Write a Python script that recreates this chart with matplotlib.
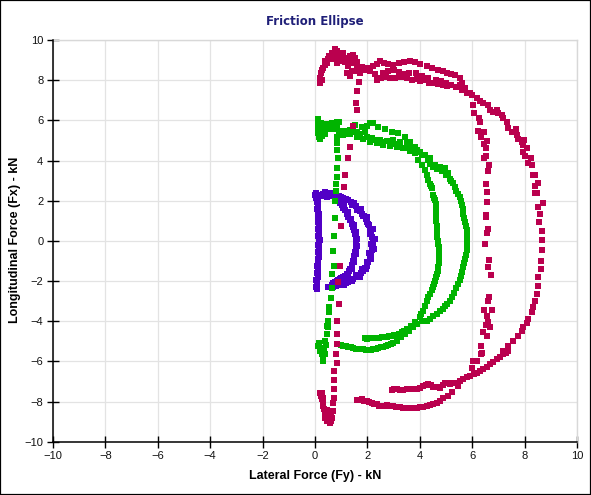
import matplotlib
matplotlib.use("Agg")
import matplotlib.pyplot as plt
from matplotlib.patches import Rectangle
import numpy as np

# ---------------- data: (Fy lateral, Fx longitudinal) in kN ----------------
purple_left = [(0.04,2.40),(0.06,2.30),(0.08,2.20),(0.10,2.03),(0.12,1.85),(0.13,1.70),(0.13,1.50),
               (0.14,1.36),(0.15,1.20),(0.16,1.05),(0.17,0.85),(0.17,0.70),(0.17,0.53),(0.17,0.38),
               (0.17,0.20),(0.18,0.05),(0.17,-0.10),(0.17,-0.31),(0.16,-0.45),(0.15,-0.60),(0.14,-0.80),
               (0.13,-0.95),(0.13,-1.14),(0.12,-1.30),(0.11,-1.50),(0.10,-1.65),(0.10,-1.81),(0.08,-1.95),
               (0.07,-2.10),(0.06,-2.25),(0.06,-2.40),(0.00,2.30),(0.02,2.15),(0.06,1.95),(0.08,1.60),
               (0.10,1.25),(0.12,0.95),(0.12,0.60),(0.13,0.25),(0.13,-0.20),(0.12,-0.55),(0.10,-0.90),
               (0.08,-1.25),(0.06,-1.60),(0.04,-1.95),(0.03,-2.30)]
purple_top = [(0.30,2.35),(0.38,2.42),(0.45,2.40),(0.52,2.38),(0.60,2.40),(0.68,2.35),(0.75,2.33),
              (0.82,2.28),(0.90,2.25),(0.98,2.20),(1.05,2.15),(0.35,2.22),(0.45,2.20),(0.55,2.22),
              (0.65,2.22),(0.75,2.18),(0.85,2.12)]
purple_outer = [(1.08,2.11),(1.18,2.07),(1.27,2.03),(1.37,1.95),(1.46,1.86),(1.55,1.74),(1.65,1.61),
                (1.73,1.49),(1.81,1.36),(1.87,1.24),(1.93,1.11),(2.00,0.95),(2.06,0.78),(2.10,0.61),
                (2.14,0.44),(2.18,0.20),(2.23,-0.06),(2.20,-0.27),(2.16,-0.48),(2.13,-0.68),(2.10,-0.89),
                (2.04,-1.06),(1.97,-1.23),(1.90,-1.37),(1.84,-1.51),(1.75,-1.62),(1.65,-1.73),(1.55,-1.81),
                (1.46,-1.89),(1.36,-1.96),(1.27,-2.03),(1.17,-2.09),(1.08,-2.14),(0.98,-2.17),(0.89,-2.19),
                (0.80,-2.24),(0.70,-2.28),(0.62,-2.30),(0.57,-2.28),(0.50,-2.30),
                (1.50,1.90),(1.75,1.60),(2.00,1.20),(2.20,0.60),(2.28,0.10),(2.25,-0.40),(2.15,-0.90),
                (1.95,-1.40),(1.70,-1.78),(1.40,-2.00),(1.10,-2.20),(0.75,-2.20),
                (1.40,1.80),(1.62,1.52),(1.84,1.22),(2.02,0.85),(2.10,0.35),(2.12,-0.15),(2.08,-0.60),
                (1.98,-1.05),(1.80,-1.42),(1.58,-1.70),(1.30,-1.92),(1.00,-2.08),(0.65,-2.18)]
purple_inner = [(0.89,2.03),(0.95,1.90),(1.02,1.78),(1.08,1.65),(1.15,1.53),(1.21,1.36),(1.27,1.19),
                (1.33,1.02),(1.40,0.86),(1.45,0.70),(1.50,0.53),(1.53,0.36),(1.55,0.19),(1.56,0.02),
                (1.56,-0.14),(1.55,-0.35),(1.53,-0.56),(1.50,-0.77),(1.46,-0.98),(1.40,-1.19),(1.34,-1.39),
                (1.28,-1.52),(1.21,-1.64),(1.14,-1.73),(1.08,-1.81),(1.01,-1.85),(0.95,-1.89),(0.89,-1.94),
                (0.83,-1.98),(0.75,-2.05),(0.68,-2.12),
                (1.00,1.95),(1.12,1.75),(1.25,1.45),(1.36,1.10),(1.47,0.80),(1.55,0.45),(1.60,0.10),
                (1.60,-0.25),(1.58,-0.65),(1.50,-1.05),(1.40,-1.40),(1.25,-1.72)]

green_top = [(0.12,6.05),(0.12,5.88),(0.12,5.70),(0.12,5.52),(0.12,5.35),(0.14,5.18),(0.20,5.08),(0.26,5.20),
             (0.24,5.50),(0.24,5.85),(0.30,5.70),(0.34,5.45),(0.40,5.30),(0.42,5.60),(0.46,5.80),(0.52,5.55),
             (0.58,5.82),(0.64,5.88),(0.70,5.55),(0.76,5.78),(0.83,5.90),(0.83,5.62),(0.90,5.94),(0.92,5.45)]
green_band = [(0.83,5.19),(0.95,5.30),(1.08,5.28),(1.15,5.45),(1.21,5.30),(1.34,5.31),(1.34,5.53),(1.45,5.40),
              (1.53,5.78),(1.59,5.19),(1.59,5.44),(1.70,5.30),(1.78,5.66),(1.84,5.06),(1.90,5.40),(1.97,5.19),
              (1.97,5.73),(2.10,4.94),(2.10,5.86),(2.16,5.10),(2.23,5.86),(2.30,5.00),(2.35,4.86),(2.42,5.69),
              (2.48,5.03),(2.55,4.90),(2.61,4.78),(2.67,5.56),(2.75,4.95),(2.86,4.73),(2.93,5.44),(2.99,5.03),
              (3.05,4.80),(3.12,4.66),(3.18,5.36),(3.25,4.90),(3.37,4.61),(3.44,5.19),(3.50,4.86),(3.55,4.60),
              (3.63,4.49),(3.63,4.94),(3.72,4.60),(3.82,4.36),(3.82,4.69),(3.90,4.50),(3.94,4.03),(4.01,4.44),
              (4.07,3.78),(4.10,4.25),(4.20,3.53),(4.20,4.28),(4.26,3.28),(4.30,4.05),(4.33,3.03),(4.39,4.11),
              (4.40,3.85),(4.45,2.61),(4.50,3.70),(4.58,3.78),(4.65,3.60),(4.77,3.69),(4.85,3.50),(4.96,3.61),
              (5.00,3.30),(5.09,3.36)]
green_inner = [(4.38,2.85),(4.42,2.75),(4.50,2.30),(4.55,2.15),(4.58,2.03),(4.60,1.85),(4.60,1.70),(4.62,1.50),
               (4.61,1.36),(4.62,1.20),(4.63,1.00),(4.64,0.75),(4.64,0.53),(4.66,0.35),(4.67,0.20),(4.70,0.00),
               (4.71,-0.14),(4.72,-0.30),(4.72,-0.50),(4.72,-0.70),(4.72,-0.90),(4.72,-1.10),(4.71,-1.31),
               (4.69,-1.50),(4.66,-1.65),(4.62,-1.80),(4.58,-1.98),(4.55,-2.15),(4.50,-2.30),(4.45,-2.45),
               (4.39,-2.64),(4.33,-2.80),(4.27,-3.00),(4.20,-3.25),(4.13,-3.48),(4.06,-3.65),(4.00,-3.80),
               (3.88,-4.14)]
green_outer = [(5.15,3.10),(5.20,3.00),(5.28,2.86),(5.35,2.70),(5.40,2.50),(5.47,2.35),(5.53,2.19),(5.57,2.00),
               (5.60,1.80),(5.63,1.60),(5.66,1.36),(5.69,1.15),(5.72,0.95),(5.75,0.75),(5.79,0.53),(5.80,0.30),
               (5.82,0.10),(5.81,-0.20),(5.79,-0.48),(5.76,-0.70),(5.72,-0.90),(5.69,-1.10),(5.66,-1.31),
               (5.60,-1.55),(5.56,-1.75),(5.52,-1.95),(5.47,-2.14),(5.40,-2.35),(5.30,-2.60),(5.22,-2.80),
               (5.15,-2.98),(5.05,-3.12),(4.95,-3.25),(4.87,-3.37),(4.77,-3.48),(4.64,-3.62),(4.50,-3.75),
               (4.38,-3.87),(4.26,-3.98)]
green_low_upper = [(3.82,-4.06),(3.65,-4.23),(3.50,-4.39),(3.40,-4.48),(3.31,-4.56),(3.20,-4.62),(3.12,-4.68),
                   (3.02,-4.70),(2.93,-4.73),(2.84,-4.75),(2.74,-4.78),(2.65,-4.80),(2.55,-4.81),(2.45,-4.82),
                   (2.35,-4.84),(2.26,-4.85),(2.16,-4.84),(2.06,-4.86),(1.97,-4.89),(1.90,-4.85)]
green_low_lower = [(4.07,-3.98),(3.90,-4.14),(3.75,-4.31),(3.60,-4.48),(3.44,-4.64),(3.27,-4.81),(3.14,-4.98),
                   (2.99,-5.11),(2.90,-5.15),(2.80,-5.19),(2.70,-5.24),(2.61,-5.28),(2.50,-5.30),(2.42,-5.34),
                   (2.33,-5.36),(2.23,-5.39),(2.14,-5.42),(2.04,-5.44),(1.94,-5.43),(1.84,-5.39),(1.75,-5.38),
                   (1.65,-5.39),(1.55,-5.37),(1.46,-5.34),(1.36,-5.30),(1.27,-5.28),(1.17,-5.25),(1.08,-5.23),
                   (1.00,-5.20)]
green_bottom = [(0.13,-5.23),(0.15,-5.10),(0.19,-5.48),(0.22,-5.35),(0.25,-5.64),(0.28,-5.50),(0.32,-5.89),
                (0.34,-5.31),(0.32,-5.98),(0.38,-5.64),(0.38,-4.98),(0.42,-5.20),(0.45,-4.64),(0.47,-4.23),
                (0.30,-5.75),(0.35,-5.45)]
green_vert = [(0.83,4.86),(0.85,4.53),(0.87,4.11),(0.85,3.61),(0.85,3.19),(0.80,2.83),(0.79,2.48),(0.76,1.98),
              (0.75,1.14),(0.73,0.24),(0.69,-0.53),(0.73,-1.23),(0.65,-1.66),(0.65,-2.36),(0.60,-2.86),
              (0.55,-3.30),(0.53,-3.56),(0.50,-4.00),(0.48,-4.31)]

red_cluster = [(0.19,7.86),(0.19,8.11),(0.23,8.36),(0.32,8.61),(0.38,8.78),(0.38,8.94),(0.51,9.03),(0.64,9.19),
               (0.64,9.36),(0.76,9.53),(0.70,9.06),(0.89,9.19),(0.93,8.94),(1.08,9.36),(1.21,9.11),(1.34,9.19),
               (1.53,9.11),(1.46,8.86),(1.27,8.69),(1.53,8.44),(1.34,8.19),(1.40,8.44),(1.21,8.36),(1.65,8.61),
               (1.72,8.36),(0.25,8.00),(0.28,8.50),(0.45,8.85),(0.55,9.20),(0.83,8.86),(0.85,9.45),(1.00,9.10),
               (1.15,8.90),(1.30,8.90),(1.45,9.25),(1.60,8.90)]
red_band_top = [(1.59,8.70),(1.80,8.65),(2.00,8.61),(2.20,8.70),(2.35,8.80),(2.48,8.94),(2.65,8.85),(2.80,8.80),
                (2.99,8.78),(3.20,8.85),(3.40,8.90),(3.63,8.94),(3.80,8.90),(4.00,8.80),(4.26,8.69),(4.45,8.60),
                (4.70,8.50),(4.90,8.44),(5.03,8.36),(5.20,8.30),(5.34,8.28),(5.53,8.11)]
red_band_mid = [(1.50,8.45),(1.70,8.40),(1.90,8.50),(2.10,8.45),(2.30,8.30),(2.61,8.36),(2.80,8.45),(3.00,8.50),
                (3.20,8.40),(3.40,8.30),(3.60,8.35),(3.85,8.35),(4.10,8.20),(4.30,8.10),(4.60,8.00),(4.80,7.95),
                (5.00,7.85),(5.20,7.75),(5.40,7.65),(5.60,7.50),(5.60,7.86),(5.73,7.61),(5.79,7.36),(5.98,7.28)]
red_band_low = [(2.35,8.03),(2.50,8.10),(2.70,8.15),(2.86,8.11),(3.05,8.10),(3.30,8.15),(3.50,8.11),(3.70,8.00),
                (3.90,8.05),(4.01,7.94),(4.20,8.00),(4.35,7.85),(4.52,7.86),(4.70,7.80),(4.90,7.75),(5.03,7.69),
                (5.53,7.78),(5.73,7.53)]
red_vert = [(1.68,7.89),(1.59,7.44),(1.55,6.86),(1.59,6.53),(1.46,5.72),(1.34,4.69),(1.25,4.14),(1.15,3.28),
            (1.11,2.69),(0.98,0.74),(0.94,-1.26),(0.87,-2.06),(0.93,-3.14),(0.83,-3.98),(0.83,-4.64),
            (0.83,-5.14),(0.80,-5.64),(0.83,-6.06),(0.74,-6.48),(0.73,-6.94),(0.73,-7.39),(0.73,-7.81),
            (0.70,-8.06),(0.70,-8.48)]
red_bottom = [(0.19,-7.56),(0.22,-7.70),(0.25,-7.89),(0.30,-8.05),(0.32,-8.23),(0.35,-8.35),(0.38,-8.48),
              (0.38,-8.65),(0.38,-8.81),(0.45,-8.98),(0.50,-8.90),(0.57,-9.06),(0.60,-8.95),(0.64,-8.81),
              (0.51,-8.56),(0.55,-8.70),(0.45,-8.40),(0.42,-8.75),(0.60,-8.60),(0.64,-8.48),(0.26,-7.60),
              (0.30,-7.80)]
red_low_upper = [(2.93,-7.44),(3.02,-7.40),(3.12,-7.39),(3.25,-7.42),(3.37,-7.43),(3.50,-7.40),(3.63,-7.36),
                 (3.75,-7.37),(3.88,-7.39),(4.00,-7.32),(4.13,-7.23),(4.25,-7.20),(4.33,-7.14),(4.42,-7.20),
                 (4.52,-7.28),(4.65,-7.30),(4.77,-7.31),(4.87,-7.18),(4.96,-7.06),(5.05,-7.10),(5.15,-7.14),
                 (5.28,-7.10),(5.41,-7.06),(5.53,-6.98),(5.66,-6.89),(5.80,-6.80),(5.92,-6.73),(6.05,-6.65),
                 (6.17,-6.56),(6.30,-6.48),(6.42,-6.39),(6.55,-6.27),(6.68,-6.14),(6.80,-6.02),(6.93,-5.89),
                 (7.06,-5.76),(7.19,-5.64),(7.28,-5.56),(7.38,-5.48)]
red_low_lower = [(1.59,-7.93),(1.68,-7.90),(1.78,-7.89),(1.88,-7.95),(1.97,-7.98),(2.06,-8.00),(2.16,-8.06),
                 (2.25,-8.10),(2.35,-8.14),(2.45,-8.20),(2.55,-8.23),(2.65,-8.20),(2.74,-8.18),(2.86,-8.22),
                 (2.99,-8.23),(3.10,-8.26),(3.24,-8.28),(3.37,-8.30),(3.50,-8.31),(3.62,-8.30),(3.75,-8.31),
                 (3.88,-8.30),(4.01,-8.28),(4.13,-8.25),(4.26,-8.23),(4.40,-8.17),(4.52,-8.11),(4.65,-8.05),
                 (4.77,-7.98),(4.90,-7.84),(5.06,-7.73),(5.21,-7.53),(5.47,-7.23)]
red_inner = [(6.04,6.78),(6.08,6.39),(6.27,6.11),(6.30,5.94),(6.23,5.49),(6.46,5.44),(6.34,5.19),(6.55,4.99),
             (6.46,4.83),(6.53,4.64),(6.45,4.11),(6.53,4.23),(6.64,3.78),(6.59,3.49),(6.53,2.83),(6.55,2.44),
             (6.55,1.94),(6.53,1.31),(6.53,1.20),(6.59,0.58),(6.55,0.39),(6.49,-0.14),(6.64,-0.93),
             (6.62,-1.31),(6.70,-1.68),(6.65,-2.78),(6.62,-2.98),(6.46,-3.43),(6.74,-3.43),(6.55,-3.73),
             (6.59,-4.03),(6.53,-4.18),(6.68,-4.31),(6.42,-4.56),(6.55,-4.73),(6.32,-5.23),(6.36,-5.56),
             (6.32,-5.61),(6.17,-5.98),(6.04,-5.98),(5.98,-6.31)]
red_outer = [(5.53,8.11),(5.60,7.86),(5.73,7.53),(5.92,7.36),(6.17,7.11),(6.30,6.94),(6.42,6.86),(6.62,6.78),
             (6.68,6.53),(6.81,6.44),(6.93,6.53),(7.00,6.36),(7.12,6.28),(7.19,6.11),(7.32,5.94),(7.38,5.61),
             (7.51,5.44),(7.67,5.56),(7.70,5.28),(7.76,5.06),(7.89,4.94),(7.95,4.78),(7.98,5.03),(8.08,4.61),
             (7.93,4.44),(8.02,4.23),(8.23,4.11),(8.14,3.86),(8.27,3.78),(8.33,3.28),(8.40,3.28),(8.40,2.73),
             (8.50,2.89),(8.40,2.39),(8.46,2.36),(8.69,1.86),(8.50,1.69),(8.59,1.33),(8.55,0.94),(8.65,0.49),
             (8.65,0.06),(8.65,-0.48),(8.61,-0.98),(8.61,-1.39),(8.52,-1.81),(8.50,-2.23),(8.46,-2.64),
             (8.40,-2.98),(8.33,-3.31),(8.27,-3.56),(8.14,-3.89),(8.08,-4.11),(7.95,-4.28),(7.89,-4.48),
             (7.76,-4.73),(7.57,-4.98),(7.38,-5.23),(7.19,-5.48)]

series_names = ["Purple", "Green", "Red"]
series_colors = ["#5200C6", "#00B400", "#BA004E"]
purple = purple_left + purple_top + purple_outer + purple_inner
green = (green_top + green_band + green_inner + green_outer + green_low_upper
         + green_low_lower + green_bottom + green_vert)
red = (red_cluster + red_band_top + red_band_mid + red_band_low + red_vert + red_bottom
       + red_low_upper + red_low_lower + red_inner + red_outer)
ticks = list(range(-10, 11, 2))

# ---------------- figure ----------------
fig = plt.figure(figsize=(5.91, 4.95), dpi=100)
ax = fig.add_axes([53/591, 1 - 441.7/495, (577-53)/591, (441.7-40)/495])

for pts, col in zip([purple, green, red], series_colors):
    a = np.array(pts)
    ax.plot(a[:, 0], a[:, 1], linestyle='none', marker='s', markersize=3.7,
            markeredgewidth=0, color=col, zorder=3)

ax.set_xlim(-10, 10)
ax.set_ylim(-10, 10)
ax.set_xticks(ticks)
ax.set_yticks(ticks)
ax.grid(True, color='#e3e3e3', linewidth=0.9, zorder=0)
ax.set_axisbelow(True)
for s in ['top', 'right']:
    ax.spines[s].set_color('#d8d8d8')
    ax.spines[s].set_linewidth(1.0)
for s in ['left', 'bottom']:
    ax.spines[s].set_color('black')
    ax.spines[s].set_linewidth(1.1)
    ax.spines[s].set_zorder(4)
ax.tick_params(direction='inout', length=8, width=1.0, color='black', pad=3,
               labelsize=8, labelcolor='#111111')
for lab in ax.get_xticklabels() + ax.get_yticklabels():
    lab.set_family('Liberation Sans')

fig.text(315/591, 1 - 22/495, "Friction Ellipse", ha='center', va='center',
         fontsize=8.5, fontweight='bold', color='#1f1f78', family='DejaVu Sans')
fig.text(315/591, 1 - 476/495, "Lateral Force (Fy) - kN", ha='center', va='center',
         fontsize=9, fontweight='bold', color='black', family='Liberation Sans')
fig.text(15/591, 1 - 240/495, "Longitudinal Force (Fx) - kN", ha='center', va='center',
         rotation=90, fontsize=9, fontweight='bold', color='black', family='Liberation Sans')

fig.patches.append(Rectangle((0, 0), 1, 1, transform=fig.transFigure, fill=False,
                             edgecolor='black', linewidth=1.6))

fig.savefig("out.png", dpi=100)
